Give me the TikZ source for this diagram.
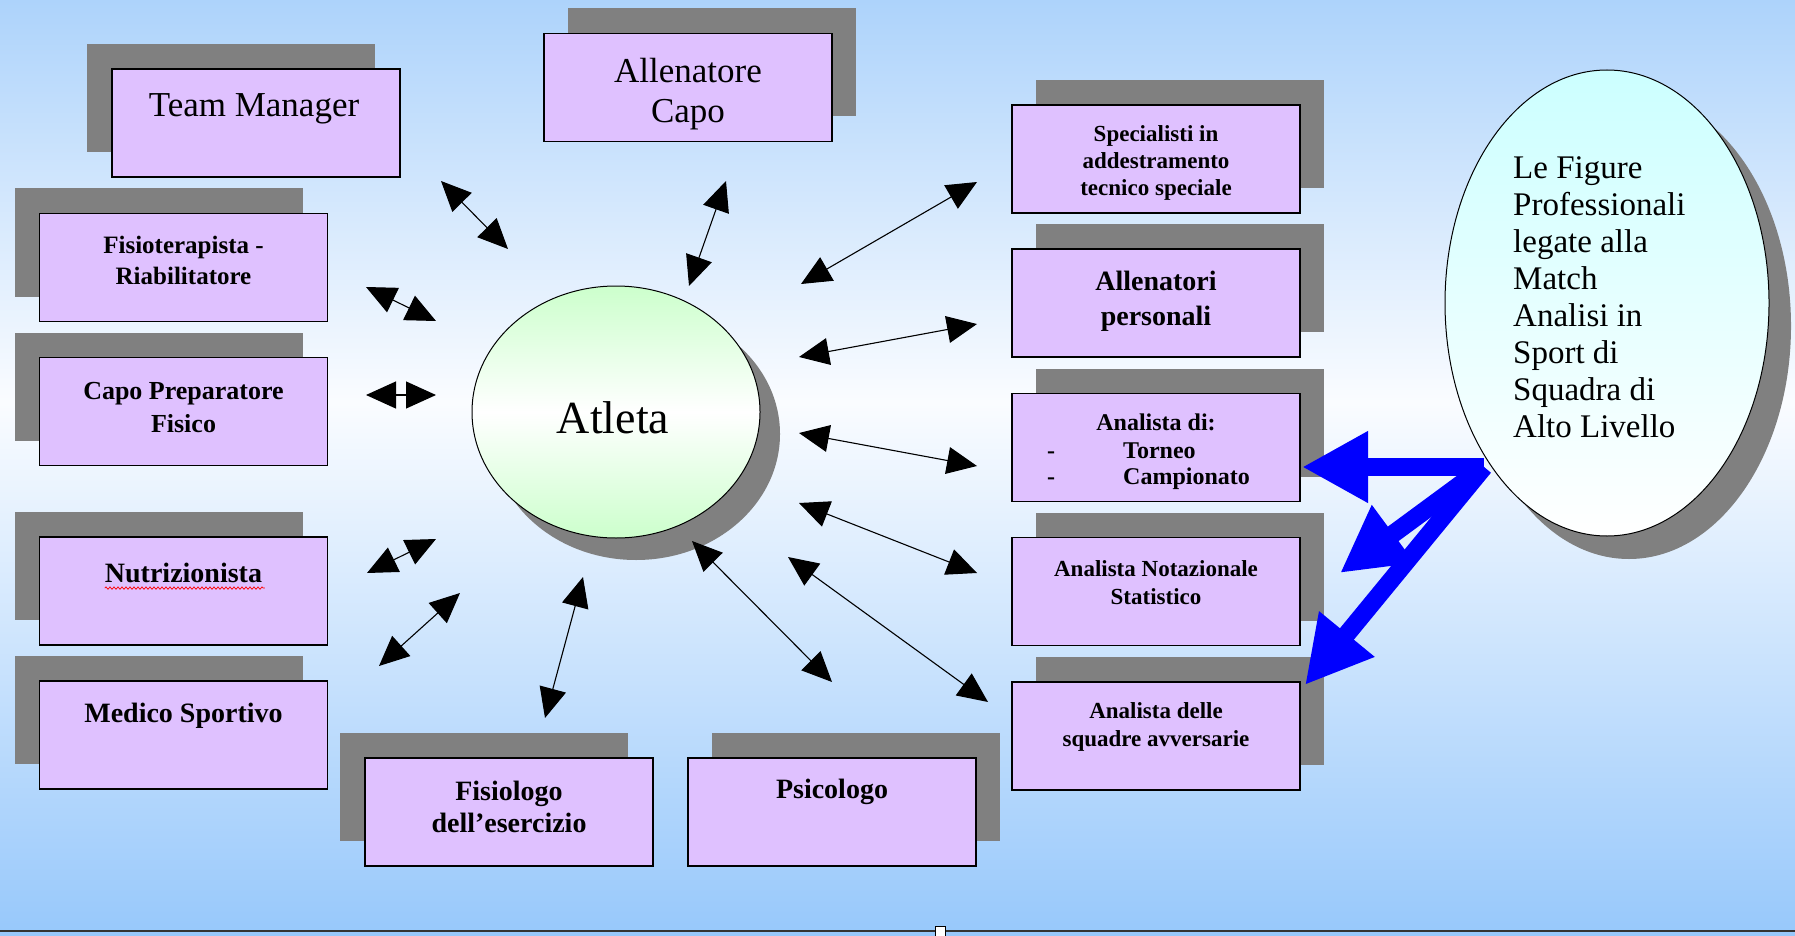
\documentclass[tikz,border=0pt]{standalone}
\usepackage{fontspec}
\setmainfont{Liberation Serif}
\usetikzlibrary{arrows.meta,shapes.geometric,shadows,decorations.pathmorphing}

\definecolor{bgtop}{HTML}{ADD3FB}
\definecolor{bgmid}{HTML}{FAFCFF}
\definecolor{bgbot}{HTML}{97C8FB}
\definecolor{boxfill}{HTML}{DFC1FF}
\definecolor{shgray}{HTML}{808080}
\definecolor{atgreen}{HTML}{CCFFCC}
\definecolor{figcyan}{HTML}{CCFFFF}
\definecolor{arrowblue}{HTML}{0000FF}

% slide background: light blue at top and bottom, almost white in between
% (the shaded path is mapped onto the band 25bp..75bp of the shading)
\pgfdeclareverticalshading{slidebg}{100bp}{color(0bp)=(bgbot); color(25bp)=(bgbot); color(53.5bp)=(bgmid); color(75bp)=(bgtop); color(100bp)=(bgtop)}

\tikzset{
  role/.style={draw=black, line width=1.3pt, fill=boxfill,
    minimum width=288pt, minimum height=108pt, inner sep=0pt},
  shUL/.style={drop shadow={shadow xshift=-25pt, shadow yshift=25pt, fill=shgray, opacity=1}},
  shUR/.style={drop shadow={shadow xshift=24pt, shadow yshift=25pt, fill=shgray, opacity=1}},
  lbl/.style={align=center, inner sep=0pt, text=black},
  fReg/.style={font=\fontsize{35}{40}\selectfont},
  fBig/.style={font=\bfseries\fontsize{28}{33}\selectfont},
  duo/.style={draw=black, line width=1.1pt,
    {Triangle[length=30pt,width=27pt]}-{Triangle[length=30pt,width=27pt]}},
  blu/.style={draw=arrowblue, line width=18pt,
    -{Triangle[length=66pt,width=67pt]}},
}

\begin{document}
\begin{tikzpicture}[x=1pt,y=-1pt]
\useasboundingbox (0,0) rectangle (1795,936);
\shade[shading=slidebg] (0,0) rectangle (1795,936);

% footer rule with its small marker
\draw[line width=2pt, draw=black!80] (0,931) -- (1795,931);
\draw[fill=white, draw=black, line width=0.8pt] (935,926) rectangle (945,936);

% ---------- role boxes ----------
\node[role, shUL] (tm)    at (256,123)  {};
\node[role, shUR] (ac)    at (688,87.5) {};
\node[role, shUL] (fisio) at (183.5,267.5) {};
\node[role, shUL] (cpf)   at (183.5,411.5) {};
\node[role, shUL] (nutri) at (183.5,591) {};
\node[role, shUL] (med)   at (183.5,735) {};
\node[role, shUL] (fisl)  at (509,812) {};
\node[role, shUR] (psi)   at (832,812) {};
\node[role, shUR] (spec)  at (1156,159) {};
\node[role, shUR] (allp)  at (1156,303) {};
\node[role, shUR] (anal)  at (1156,447.5) {};
\node[role, shUR] (nota)  at (1156,591.5) {};
\node[role, shUR] (avv)   at (1156,736) {};

% ---------- box texts ----------
\node[lbl, fReg] (tTm) at (254,109) {Team Manager};
\node[lbl, fReg] (tAc) at (688,94) {Allenatore\\Capo};
\node[lbl, font=\bfseries\fontsize{25}{31}\selectfont] (tFisio) at (183.5,260) {Fisioterapista -\\Riabilitatore};
\node[lbl, font=\bfseries\fontsize{26}{33}\selectfont] (tCpf) at (183.5,408) {Capo Preparatore\\Fisico};
\node[lbl, fBig] (tNutri) at (183.5,573) {Nutrizionista};
\node[lbl, fBig] (tMed) at (183.5,716) {Medico Sportivo};
\node[lbl, font=\bfseries\fontsize{28}{32}\selectfont] (tFisl) at (509,807) {Fisiologo\\dell’esercizio};
\node[lbl, fBig] (tPsi) at (832,792) {Psicologo};
\node[lbl, font=\bfseries\fontsize{23}{27}\selectfont] (tSpec) at (1156,163) {Specialisti in\\addestramento\\tecnico speciale};
\node[lbl, font=\bfseries\fontsize{28}{35}\selectfont] (tAllp) at (1156,301) {Allenatori\\personali};
\node[lbl, font=\bfseries\fontsize{24}{27}\selectfont, anchor=base] (tAnal) at (1156,430) {Analista di:};
\node[lbl, font=\bfseries\fontsize{24}{27}\selectfont, anchor=base west] (dash1) at (1047,458) {-};
\node[lbl, font=\bfseries\fontsize{24}{27}\selectfont, anchor=base west] (tTorneo) at (1123,458) {Torneo};
\node[lbl, font=\bfseries\fontsize{24}{27}\selectfont, anchor=base west] (dash2) at (1047,484) {-};
\node[lbl, font=\bfseries\fontsize{24}{27}\selectfont, anchor=base west] (tCamp) at (1123,484) {Campionato};
\node[lbl, font=\bfseries\fontsize{23}{28}\selectfont] (tNota) at (1156,583) {Analista Notazionale\\Statistico};
\node[lbl, font=\bfseries\fontsize{23}{28}\selectfont] (tAvv) at (1156,727) {Analista delle\\squadre avversarie};

% spelling mark under the word
\draw[red, line width=0.7pt, decorate, decoration={snake, amplitude=1.2pt, segment length=4pt}]
  (tNutri.south west) ++(0,5) -- ++(160,0);

% ---------- central athlete ----------
\fill[shgray] (636,434) ellipse [x radius=144pt, y radius=126pt];
\node[ellipse, draw=black, line width=1pt, minimum width=288pt, minimum height=252pt,
  inner sep=0pt, top color=atgreen, bottom color=atgreen, middle color=white] (atleta) at (616,412) {};
\node[lbl, font=\fontsize{46}{50}\selectfont] (tAtleta) at (613,418) {Atleta};

% ---------- match-analysis ellipse ----------
\fill[shgray] (1629,326) ellipse [x radius=162pt, y radius=233pt];
\node[ellipse, draw=black, line width=1pt, minimum width=324pt, minimum height=466pt,
  inner sep=0pt, top color=figcyan, bottom color=white] (fig) at (1607,303) {};
\node[align=left, inner sep=0pt, anchor=west, font=\fontsize{33}{37}\selectfont] (tFig) at (1513,297)
  {Le Figure\\Professionali\\legate alla\\Match\\Analisi in\\Sport di\\Squadra di\\Alto Livello};

% ---------- two-way links around the athlete ----------
\coordinate (tmA) at (441,181);   \coordinate (tmB) at (508,249);
\coordinate (acA) at (726,181);   \coordinate (acB) at (689,286);
\coordinate (fiA) at (366,287);   \coordinate (fiB) at (436,321);
\coordinate (cpA) at (366,395);   \coordinate (cpB) at (436,395);
\coordinate (nuA) at (367,573);   \coordinate (nuB) at (436,539);
\coordinate (meA) at (379,666);   \coordinate (meB) at (460,593);
\coordinate (flA) at (545,718);   \coordinate (flB) at (583,577);
\coordinate (psA) at (692,541);   \coordinate (psB) at (832,682);
\coordinate (spA) at (801,284);   \coordinate (spB) at (977,182);
\coordinate (alA) at (799,357);   \coordinate (alB) at (977,324);
\coordinate (anA) at (799,433);   \coordinate (anB) at (977,466);
\coordinate (noA) at (799,503);   \coordinate (noB) at (977,573);
\coordinate (avA) at (788,557);   \coordinate (avB) at (988,702);

\draw[duo] (tmA) -- (tmB);
\draw[duo] (acA) -- (acB);
\draw[duo] (fiA) -- (fiB);
\draw[duo] (cpA) -- (cpB);
\draw[duo] (nuA) -- (nuB);
\draw[duo] (meA) -- (meB);
\draw[duo] (flA) -- (flB);
\draw[duo] (psA) -- (psB);
\draw[duo] (spA) -- (spB);
\draw[duo] (alA) -- (alB);
\draw[duo] (anA) -- (anB);
\draw[duo] (noA) -- (noB);
\draw[duo] (avA) -- (avB);

% ---------- blue links from the match-analysis ellipse ----------
\coordinate (src) at (1484,467);
\coordinate (toAnal) at (1302,467);
\coordinate (toNota) at (1340,573);
\coordinate (toAvv)  at (1305,685);
\draw[blu] (src) -- (toAnal);
\draw[blu] (src) -- (toNota);
\draw[blu] (src) -- (toAvv);
\end{tikzpicture}
\end{document}
